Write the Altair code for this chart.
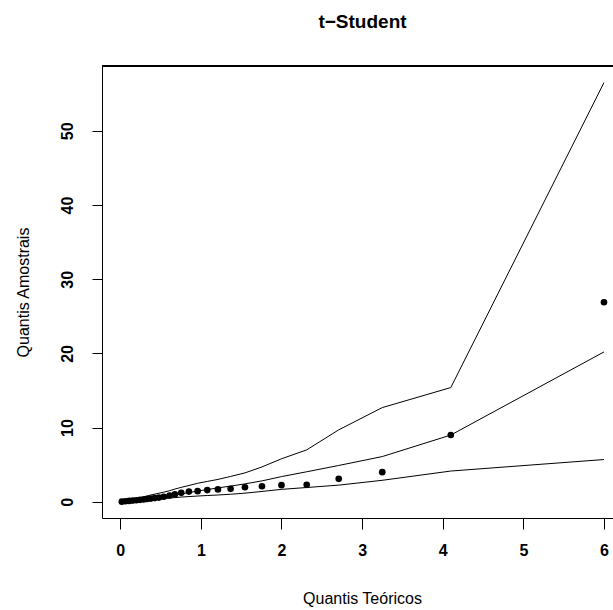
import altair as alt
import pandas as pd

# Theoretical quantiles (x) and sample quantiles (y)
theoretical = [0.02, 0.065, 0.11, 0.155, 0.2, 0.245, 0.29, 0.335, 0.38, 0.43,
               0.48, 0.54, 0.612, 0.678, 0.757, 0.852, 0.96, 1.08, 1.212, 1.369,
               1.547, 1.758, 2.0, 2.313, 2.71, 3.25, 4.10, 6.0]
observed = [0.02, 0.07, 0.12, 0.17, 0.22, 0.27, 0.32, 0.38, 0.44, 0.5,
            0.57, 0.68, 0.86, 1.0, 1.21, 1.38, 1.44, 1.58, 1.67, 1.75,
            1.96, 2.1, 2.25, 2.29, 3.1, 4.0, 9.0, 26.9]
env_lower = [0.0, 0.03, 0.06, 0.09, 0.13, 0.17, 0.21, 0.25, 0.3, 0.35,
             0.4, 0.45, 0.5, 0.57, 0.64, 0.71, 0.78, 0.85, 0.92, 1.02,
             1.17, 1.4, 1.68, 1.93, 2.25, 2.9, 4.15, 5.7]
env_median = [0.03, 0.08, 0.13, 0.19, 0.25, 0.31, 0.37, 0.43, 0.49, 0.56,
              0.63, 0.71, 0.8, 0.92, 1.07, 1.25, 1.45, 1.65, 1.88, 2.12,
              2.42, 2.82, 3.4, 4.05, 4.9, 6.1, 9.0, 20.2]
env_upper = [0.06, 0.15, 0.25, 0.35, 0.46, 0.57, 0.68, 0.8, 0.92, 1.04,
             1.16, 1.3, 1.5, 1.72, 1.95, 2.2, 2.5, 2.75, 3.02, 3.42,
             3.9, 4.7, 5.8, 7.0, 9.7, 12.7, 15.4, 56.5]

x_ticks = [0, 1, 2, 3, 4, 5, 6]
y_ticks = [0, 10, 20, 30, 40, 50]

FONT = "Liberation Sans"
W, H = 511, 452

pts = pd.DataFrame({"x": theoretical, "y": observed})
env = pd.concat([
    pd.DataFrame({"x": theoretical, "y": env_lower, "s": "lower"}),
    pd.DataFrame({"x": theoretical, "y": env_median, "s": "median"}),
    pd.DataFrame({"x": theoretical, "y": env_upper, "s": "upper"}),
])

xscale = alt.Scale(domain=[-0.226, 6.112], nice=False, zero=False)
yscale = alt.Scale(domain=[-2.18, 58.74], nice=False, zero=False)

xaxis = alt.Axis(values=x_ticks, format="d", title="Quantis Teóricos", grid=False,
                 domain=True, domainColor="black", domainWidth=1,
                 tickColor="black", tickSize=11, tickWidth=1,
                 labelFont=FONT, labelFontSize=16, labelFontWeight="bold",
                 labelColor="black", labelPadding=13, labelFlush=False,
                 titleFont=FONT, titleFontSize=16, titleFontWeight="normal",
                 titleColor="black", titleX=260, titleY=80,
                 titleBaseline="middle", titleAnchor="start", titleAlign="center")
yaxis = alt.Axis(values=y_ticks, format="d", title="Quantis Amostrais", grid=False,
                 domain=True, domainColor="black", domainWidth=1,
                 tickColor="black", tickSize=10, tickWidth=1,
                 labelFont=FONT, labelFontSize=16, labelFontWeight="bold",
                 labelColor="black", labelAngle=270, labelAlign="center",
                 labelBaseline="middle", labelPadding=25, labelFlush=False,
                 titleFont=FONT, titleFontSize=16, titleFontWeight="normal",
                 titleColor="black", titleAngle=270, titleX=-79, titleY=226,
                 titleBaseline="middle", titleAlign="center", titleAnchor="start")

lines = alt.Chart(env).mark_line(color="black", strokeWidth=1).encode(
    x=alt.X("x:Q", scale=xscale, axis=xaxis),
    y=alt.Y("y:Q", scale=yscale, axis=yaxis),
    detail="s:N",
)
points = alt.Chart(pts).mark_circle(color="black", size=44, opacity=1).encode(
    x=alt.X("x:Q", scale=xscale),
    y=alt.Y("y:Q", scale=yscale),
)
top_rule = alt.Chart(pts).mark_rule(color="black", strokeWidth=1).encode(
    x=alt.value(0), x2=alt.value(W), y=alt.value(0)
)

chart = alt.layer(lines, points, top_rule).properties(
    width=W, height=H,
    autosize=alt.AutoSizeParams(type="none"),
    padding={"left": 102, "top": 66, "right": 0, "bottom": 92},
    title=alt.TitleParams("t\u2212Student", font=FONT, fontSize=19, fontWeight="bold",
                          color="black", anchor="middle", dx=5, offset=25,
                          baseline="middle"),
).configure_view(stroke=None).configure(background="white")

chart.save("out.html", embed_options={"renderer": "svg", "actions": False})
